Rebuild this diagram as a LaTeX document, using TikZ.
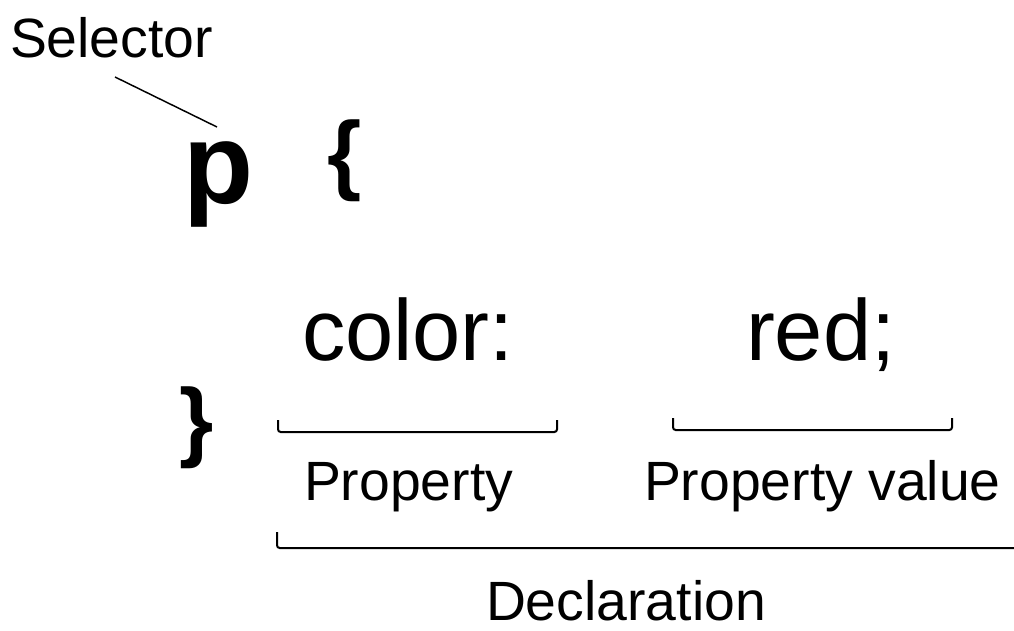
\documentclass[tikz,border=0pt]{standalone}
\usepackage{fontspec}
\setmainfont{Liberation Sans}
\usetikzlibrary{positioning, calc}
\definecolor{ink}{HTML}{000000}
\tikzset{
  % px-like units, y pointing down
  code/.style={inner sep=0pt, outer sep=0pt, text=ink, anchor=base west,
               font=\fontsize{65}{70}\selectfont},
  codebold/.style={code, font=\fontsize{66}{70}\selectfont\bfseries},
  lbl/.style={inner sep=0pt, outer sep=0pt, text=ink, anchor=base west,
              font=\fontsize{41.5}{46}\selectfont},
  pointer/.style={draw=ink, line width=1.1pt},
  bracket/.style={draw=ink, line width=1.5pt, rounded corners=2pt},
}

\begin{document}
\begin{tikzpicture}[x=0.75pt, y=-0.75pt]
  \useasboundingbox (0,0) rectangle (1014,631);

  % the rule: selector, braces, declaration
  \node[lbl] (sel) at (10,58) {Selector};
  \node[codebold, font=\fontsize{86}{90}\selectfont\bfseries] (psel) at (183,204) {p};
  \node[codebold] (lbrace) at (327,184) {\{};
  \node[codebold] (rbrace) at (179,450) {\}};
  \node[code] (prop) at (302,360) {color:};
  \node[code] (val) at (746,360) {red;};

  % labels under the brackets
  \node[lbl] (proplbl) at (304,500) {Property};
  \node[lbl] (vallbl) at (644,500) {Property value};
  \node[lbl] (decllbl) at (486,620) {Declaration};

  % selector pointer
  \coordinate (selfoot) at (115,77);
  \coordinate (seltip) at (217,127);
  \draw[pointer] (selfoot) -- (seltip);

  % brackets
  \coordinate (pa) at (278,420);
  \coordinate (pb) at (557,420);
  \coordinate (va) at (673,418);
  \coordinate (vb) at (952,418);
  \coordinate (da) at (277,532);
  \coordinate (db) at (1020,548);
  \draw[bracket] (pa) -- ++(0,12) -| (pb);
  \draw[bracket] (va) -- ++(0,12) -| (vb);
  \draw[bracket] (da) -- ++(0,16) -- (db);

\end{tikzpicture}
\end{document}
